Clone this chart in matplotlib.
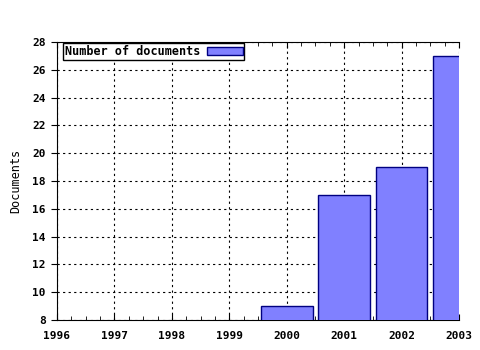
import matplotlib.pyplot as plt
from matplotlib.ticker import MultipleLocator

# data
years = [2000, 2001, 2002, 2003]
docs = [9, 17, 19, 27]
xticks = [1996, 1997, 1998, 1999, 2000, 2001, 2002, 2003]

plt.rcParams['font.family'] = 'DejaVu Sans Mono'
plt.rcParams['font.weight'] = 'bold'
plt.rcParams['font.size'] = 8

fig = plt.figure(figsize=(4.8, 3.5), dpi=100)
ax = fig.add_axes([57/480, 1 - 320/350, (459-57)/480, (320-42)/350])

ax.bar(years, docs, width=0.9, color='#8080ff', edgecolor='#000080',
       linewidth=1, label='Number of documents', zorder=3)

ax.set_xlim(1996, 2003)
ax.set_ylim(8, 28)
ax.set_xticks(xticks)
ax.yaxis.set_major_locator(MultipleLocator(2))
ax.xaxis.set_minor_locator(MultipleLocator(0.25))
ax.tick_params(axis='y', which='major', direction='out', length=4, pad=4, right=False)
ax.tick_params(axis='x', which='both', direction='in', top=True)
ax.tick_params(axis='x', which='major', length=4, pad=8)
ax.tick_params(axis='x', which='minor', length=3)
ax.grid(True, which='major', color='black', linestyle=(0, (2, 3)), linewidth=0.8, zorder=1)
ax.spines['right'].set_visible(False)
ax.set_ylabel('Documents', labelpad=7, fontsize=8.5)

leg = ax.legend(loc='upper left', bbox_to_anchor=(0.015, 0.995), frameon=True,
                fancybox=False, framealpha=1, edgecolor='black', handlelength=3,
                handleheight=0.6, borderpad=0.15, borderaxespad=0, handletextpad=0.6,
                markerfirst=False, prop={'size': 8.5})
leg.get_frame().set_linewidth(1)

fig.savefig('out.png', dpi=100)
